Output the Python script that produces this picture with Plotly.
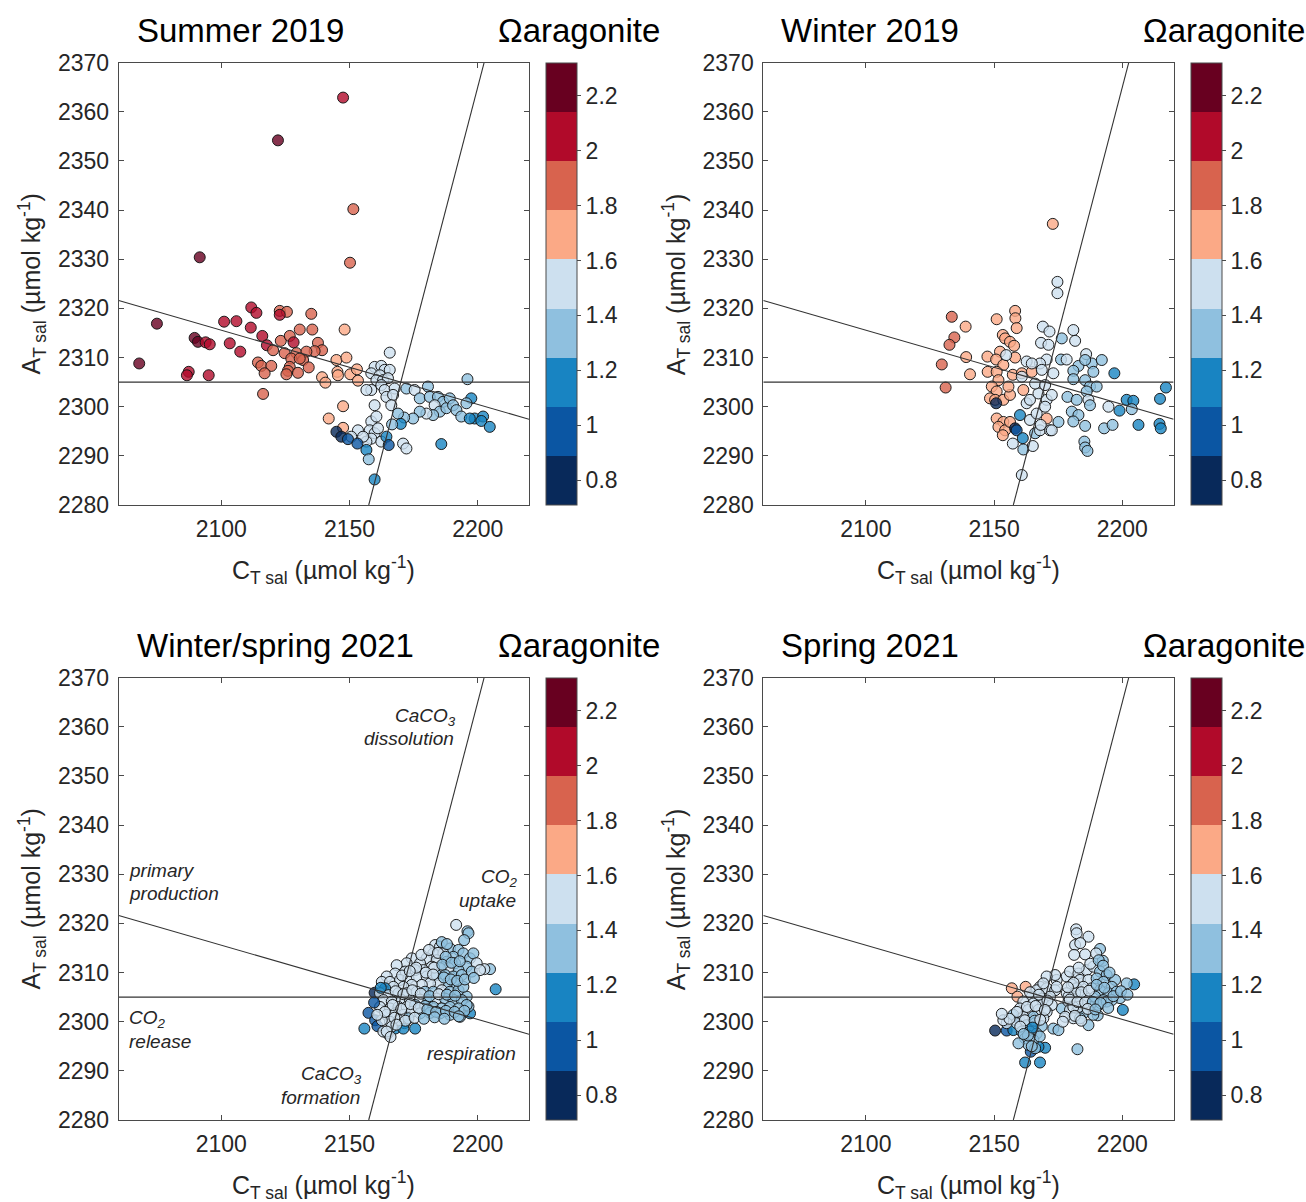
import plotly.graph_objects as go

# ---------------------------------------------------------------------------
# Salinity-normalised carbonate data (CT_sal, AT_sal in umol/kg, Omega aragonite)
# ---------------------------------------------------------------------------
ct_summer2019 = [
    2147.5, 2122.1, 2151.5, 2150.2, 2091.6,
    2111.7, 2113.7, 2122.8, 2125.6, 2122.8, 2135.1, 2074.9, 2101.1, 2105.9, 2111.5,
    2130.6, 2135.5, 2148.1, 2089.6, 2090.9, 2093.9, 2095.5, 2103.3, 2116.0, 2117.8,
    2123.2, 2126.7, 2128.2, 2137.7, 2139.3, 2136.4, 2107.4, 2120.2, 2124.7, 2129.3,
    2133.2, 2131.9, 2127.3, 2130.6, 2068.0, 2114.3, 2115.6, 2119.5, 2126.7, 2126.0,
    2129.9, 2125.4, 2134.1, 2116.9, 2144.9, 2148.8, 2145.3, 2145.5, 2139.3, 2140.6,
    2150.3, 2152.9, 2153.3, 2087.3, 2086.6, 2095.1, 2116.3, 2147.5, 2141.9, 2147.5,
    2165.7, 2159.8, 2162.4, 2163.7, 2165.7, 2158.5, 2161.8, 2160.5, 2163.1, 2165.0,
    2162.4, 2163.7, 2158.5, 2167.6, 2164.4, 2167.0, 2159.8, 2166.3, 2156.6, 2172.2,
    2175.4, 2177.4, 2180.6, 2181.3, 2184.5, 2186.5, 2183.2, 2185.2, 2187.8, 2189.1,
    2190.4, 2191.7, 2193.6, 2182.6, 2180.0, 2177.4, 2174.8, 2171.3, 2168.9, 2196.0,
    2197.5, 2195.6, 2198.8, 2202.1, 2201.4, 2204.7, 2196.9, 2185.8, 2170.9, 2172.2,
    2158.5, 2160.5, 2157.9, 2159.8, 2161.1, 2158.5, 2156.6, 2153.3, 2150.7, 2155.3,
    2162.4, 2164.4, 2165.3, 2170.0, 2166.6, 2144.9, 2146.8, 2149.4, 2153.1, 2156.6,
    2157.5, 2159.8,
]
at_summer2019 = [
    2362.9, 2354.2, 2340.2, 2329.3, 2330.4,
    2320.2, 2319.1, 2319.5, 2319.3, 2318.7, 2318.9, 2316.9, 2317.3, 2317.4, 2316.1,
    2315.7, 2315.7, 2315.7, 2314.0, 2313.2, 2313.1, 2312.7, 2312.9, 2314.4, 2312.5,
    2313.4, 2314.4, 2313.1, 2313.0, 2311.5, 2311.3, 2311.2, 2311.5, 2310.9, 2310.9,
    2311.2, 2309.5, 2309.8, 2309.8, 2308.8, 2309.0, 2308.3, 2308.3, 2308.1, 2307.3,
    2306.9, 2306.6, 2308.0, 2306.8, 2309.5, 2310.0, 2307.1, 2306.4, 2306.0, 2304.9,
    2306.6, 2307.6, 2305.3, 2307.1, 2306.4, 2306.4, 2302.6, 2300.1, 2297.6, 2295.7,
    2311.0, 2308.1, 2308.3, 2307.5, 2307.5, 2306.8, 2306.4, 2305.4, 2305.4, 2305.8,
    2304.4, 2303.4, 2303.4, 2303.7, 2302.0, 2302.4, 2300.3, 2300.3, 2303.4, 2303.7,
    2303.4, 2301.7, 2304.1, 2302.0, 2302.0, 2301.0, 2300.3, 2299.0, 2299.7, 2301.7,
    2300.3, 2299.3, 2298.0, 2298.3, 2298.6, 2299.0, 2297.6, 2297.8, 2298.6, 2305.6,
    2301.7, 2300.7, 2297.6, 2298.0, 2297.1, 2295.9, 2297.6, 2292.4, 2292.5, 2291.5,
    2297.0, 2298.0, 2295.2, 2294.6, 2295.6, 2293.5, 2292.9, 2295.2, 2293.9, 2293.9,
    2292.9, 2293.9, 2292.2, 2296.5, 2296.4, 2294.9, 2293.9, 2293.4, 2292.5, 2291.2,
    2289.3, 2285.2,
]
omega_summer2019 = [
    2.03, 2.21, 1.86, 1.86, 2.21,
    2.05, 2.03, 1.88, 1.85, 1.98, 1.84, 2.19, 2.06, 2.02, 2.04,
    1.87, 1.83, 1.70, 2.18, 2.15, 2.07, 2.05, 2.13, 2.01, 1.97,
    1.89, 1.86, 1.99, 1.82, 1.84, 1.87, 2.04, 1.90, 1.88, 1.85,
    1.83, 1.86, 1.87, 1.84, 2.32, 1.91, 1.89, 1.86, 1.85, 1.88,
    1.83, 1.86, 1.81, 1.87, 1.72, 1.69, 1.71, 1.74, 1.73, 1.70,
    1.68, 1.75, 1.72, 2.08, 2.03, 2.05, 1.87, 1.71, 1.69, 1.66,
    1.48, 1.52, 1.50, 1.46, 1.53, 1.49, 1.51, 1.47, 1.55, 1.50,
    1.44, 1.52, 1.49, 1.46, 1.51, 1.48, 1.53, 1.45, 1.56, 1.38,
    1.45, 1.36, 1.33, 1.42, 1.35, 1.30, 1.44, 1.34, 1.31, 1.37,
    1.29, 1.33, 1.27, 1.39, 1.43, 1.36, 1.32, 1.35, 1.38, 1.31,
    1.16, 1.26, 1.14, 1.12, 1.18, 1.15, 1.20, 1.17, 1.46, 1.44,
    1.47, 1.50, 1.44, 1.52, 1.48, 1.49, 1.53, 1.46, 1.51, 1.45,
    1.47, 1.15, 0.95, 1.19, 1.40, 0.71, 0.83, 0.96, 0.99, 1.13,
    1.31, 1.16,
]

ct_winter2019 = [
    2172.9, 2174.7, 2174.7, 2133.5, 2138.9, 2134.5, 2132.6, 2129.6, 2131.1, 2139.1,
    2140.6, 2151.0, 2158.2, 2158.3, 2158.8, 2153.4, 2154.3, 2156.2, 2157.8, 2152.3,
    2147.4, 2150.8, 2153.6, 2147.5, 2151.0, 2151.7, 2149.1, 2151.0, 2148.4, 2150.4,
    2153.6, 2156.2, 2155.6, 2158.2, 2157.3, 2160.8, 2151.0, 2153.6, 2151.7, 2154.3,
    2153.4, 2156.2, 2170.5, 2164.7, 2161.4, 2150.8, 2158.2, 2158.8, 2160.1, 2161.2,
    2161.4, 2157.3, 2165.1, 2160.8, 2166.0, 2167.9, 2171.8, 2175.1, 2164.0, 2166.6,
    2162.7, 2164.0, 2170.5, 2169.9, 2167.3, 2166.0, 2169.9, 2172.5, 2173.1, 2170.5,
    2167.9, 2168.6, 2162.7, 2164.7, 2154.7, 2160.8, 2169.0, 2171.6, 2168.3, 2171.2,
    2176.4, 2180.9, 2181.6, 2176.1, 2178.3, 2182.9, 2180.9, 2180.9, 2185.9, 2188.1,
    2185.5, 2192.0, 2188.7, 2185.5, 2187.4, 2190.0, 2186.1, 2196.9, 2178.6, 2182.2,
    2186.8, 2187.4, 2194.6, 2198.9, 2201.7, 2204.3, 2203.7, 2214.7, 2217.0, 2206.3,
    2214.5, 2215.0, 2180.3, 2182.9, 2180.9, 2185.5, 2192.9, 2196.2, 2185.2, 2185.5,
    2186.4, 2172.5, 2168.2,
]
at_winter2019 = [
    2337.2, 2325.4, 2323.1, 2318.3, 2316.3, 2314.1, 2312.6, 2308.6, 2303.9, 2310.1,
    2306.6, 2317.8, 2319.5, 2318.0, 2316.0, 2314.6, 2313.9, 2313.2, 2312.4, 2311.2,
    2310.2, 2309.6, 2308.5, 2307.1, 2307.1, 2305.4, 2304.1, 2303.1, 2301.7, 2301.4,
    2301.4, 2302.4, 2304.1, 2310.0, 2306.5, 2306.8, 2297.6, 2296.9, 2295.9, 2295.2,
    2294.2, 2296.9, 2297.6, 2307.1, 2303.4, 2300.7, 2295.6, 2295.2, 2298.3, 2293.6,
    2291.3, 2292.5, 2292.0, 2286.1, 2294.6, 2295.2, 2295.2, 2296.9, 2297.3, 2298.6,
    2300.7, 2301.4, 2301.4, 2300.0, 2302.7, 2304.7, 2304.4, 2302.4, 2306.8, 2309.6,
    2308.8, 2307.5, 2309.2, 2308.8, 2310.5, 2306.1, 2316.3, 2315.3, 2313.0, 2312.6,
    2313.9, 2315.6, 2313.4, 2309.6, 2309.6, 2308.3, 2307.3, 2305.6, 2310.7, 2308.8,
    2309.5, 2309.5, 2307.1, 2305.4, 2304.1, 2304.1, 2303.1, 2306.8, 2302.0, 2301.4,
    2301.4, 2300.3, 2300.0, 2299.2, 2301.4, 2301.2, 2299.5, 2301.6, 2303.9, 2296.3,
    2296.5, 2295.6, 2299.0, 2298.3, 2297.0, 2296.1, 2295.6, 2296.3, 2292.9, 2291.7,
    2291.0, 2295.2, 2296.3,
]
omega_winter2019 = [
    1.68, 1.50, 1.47, 1.87, 1.70, 1.84, 1.85, 1.88, 1.86, 1.71,
    1.69, 1.72, 1.73, 1.70, 1.68, 1.74, 1.71, 1.69, 1.72, 1.70,
    1.67, 1.73, 1.69, 1.71, 1.66, 1.70, 1.74, 1.68, 1.72, 1.69,
    1.71, 1.67, 1.73, 1.70, 1.69, 1.72, 1.71, 1.68, 1.73, 1.70,
    1.69, 1.72, 1.71, 1.68, 1.70, 0.82, 0.81, 0.98, 1.16, 1.14,
    1.33, 1.49, 1.45, 1.48, 1.38, 1.44, 1.47, 1.34, 1.43, 1.50,
    1.46, 1.52, 1.48, 1.45, 1.51, 1.49, 1.47, 1.53, 1.50, 1.46,
    1.52, 1.48, 1.55, 1.50, 1.53, 1.51, 1.49, 1.52, 1.47, 1.50,
    1.40, 1.48, 1.51, 1.36, 1.44, 1.33, 1.39, 1.35, 1.46, 1.37,
    1.42, 1.32, 1.38, 1.41, 1.36, 1.34, 1.40, 1.15, 1.31, 1.37,
    1.44, 1.33, 1.49, 1.17, 1.14, 1.19, 1.38, 1.16, 1.13, 1.15,
    1.18, 1.12, 1.33, 1.36, 1.30, 1.39, 1.34, 1.37, 1.31, 1.35,
    1.40, 1.46, 1.43,
]

ct_winterspring2021 = [
    2191.6, 2196.0, 2196.4, 2194.7, 2207.0, 2204.8, 2202.6, 2159.8, 2157.4, 2155.8,
    2160.0, 2160.9, 2164.9, 2167.8, 2171.4, 2175.6, 2171.0, 2163.2, 2197.0, 2193.1,
    2196.4, 2195.7,
    2183.4, 2185.3, 2189.2, 2192.5, 2182.7, 2186.6, 2190.5, 2194.4, 2197.0, 2198.3,
    2180.1, 2184.0, 2187.9, 2191.2, 2174.3, 2172.3, 2168.4, 2177.5, 2195.7, 2199.6,
    2192.5, 2188.6, 2185.3, 2182.1, 2178.8, 2175.6, 2171.7, 2167.8, 2164.5, 2162.6,
    2165.8, 2169.7, 2173.0, 2176.2, 2180.1, 2184.0, 2187.3, 2190.5, 2193.8, 2197.7,
    2200.9, 2191.2, 2187.9, 2184.7, 2181.4, 2178.2, 2174.3, 2171.0, 2167.1, 2163.9,
    2161.9, 2165.2, 2169.1, 2172.3, 2176.2, 2179.5, 2182.7, 2186.0, 2189.2, 2192.5,
    2194.4, 2163.2, 2166.5, 2170.4, 2173.6, 2177.5, 2180.8, 2184.0, 2187.3, 2190.5,
    2193.8, 2195.7, 2161.9, 2165.8, 2169.1, 2172.3, 2175.6, 2179.5, 2182.7, 2186.0,
    2189.2, 2192.5, 2164.5, 2167.8, 2171.0, 2174.3, 2177.5, 2181.4, 2185.3, 2189.2,
    2165.8, 2162.6, 2169.1, 2173.0, 2166.5, 2164.5,
    2178.0, 2181.0, 2186.0, 2188.0, 2184.5, 2187.5, 2183.0, 2186.2, 2189.8, 2193.0,
    2176.0, 2179.8, 2182.6, 2186.8, 2189.5, 2192.0, 2195.0, 2198.5, 2170.5, 2173.5,
    2168.0, 2171.0, 2174.5, 2177.8, 2181.2, 2184.8, 2188.0, 2191.2, 2166.8, 2170.2,
    2173.8, 2177.0, 2180.4, 2183.8, 2187.6, 2191.0, 2194.8, 2163.8, 2167.5, 2171.8,
    2175.4, 2179.0, 2183.2, 2187.0, 2192.6, 2168.3, 2162.2, 2159.6, 2160.8, 2166.0,
]
at_winterspring2021 = [
    2319.7, 2318.4, 2318.0, 2316.6, 2306.6, 2310.7, 2310.7, 2305.9, 2301.8, 2298.6,
    2300.3, 2299.1, 2297.6, 2298.6, 2299.7, 2298.6, 2298.6, 2298.0, 2301.7, 2301.0,
    2303.1, 2305.1,
    2315.6, 2315.3, 2314.9, 2314.6, 2313.9, 2313.9, 2313.2, 2313.9, 2312.9, 2313.9,
    2312.9, 2312.5, 2312.2, 2311.9, 2312.9, 2311.9, 2311.5, 2311.9, 2311.2, 2311.9,
    2310.5, 2310.9, 2310.9, 2311.2, 2310.5, 2310.5, 2310.2, 2309.8, 2309.2, 2308.1,
    2308.1, 2308.5, 2308.8, 2309.2, 2309.2, 2309.5, 2309.5, 2309.2, 2309.5, 2310.2,
    2310.5, 2307.8, 2307.8, 2307.8, 2307.8, 2307.5, 2307.5, 2307.1, 2307.1, 2306.8,
    2305.8, 2305.4, 2305.8, 2305.8, 2306.1, 2306.1, 2306.1, 2306.4, 2306.1, 2306.4,
    2307.1, 2304.4, 2304.1, 2304.4, 2304.4, 2304.5, 2304.4, 2304.7, 2304.7, 2304.4,
    2304.4, 2303.4, 2303.0, 2302.7, 2303.0, 2303.0, 2303.4, 2303.2, 2303.0, 2302.7,
    2303.0, 2302.7, 2301.4, 2301.7, 2301.4, 2302.0, 2301.7, 2301.8, 2301.7, 2301.4,
    2300.0, 2300.3, 2300.3, 2300.7, 2299.0, 2298.0,
    2313.6, 2314.6, 2316.2, 2315.8, 2314.0, 2313.2, 2311.0, 2311.6, 2312.0, 2312.3,
    2311.0, 2310.0, 2309.6, 2309.0, 2308.6, 2308.3, 2308.6, 2308.9, 2309.4, 2310.3,
    2306.2, 2305.6, 2306.4, 2305.7, 2305.2, 2305.6, 2305.5, 2305.3, 2303.4, 2302.6,
    2303.6, 2302.8, 2302.5, 2302.0, 2302.2, 2302.0, 2302.2, 2302.0, 2300.8, 2300.2,
    2300.8, 2300.6, 2300.9, 2300.6, 2301.1, 2299.4, 2306.9, 2303.9, 2301.4, 2296.9,
]
omega_winterspring2021 = [
    1.50, 1.32, 1.36, 1.38, 1.15, 1.40, 1.47, 0.81, 0.99, 1.13,
    0.96, 1.02, 1.46, 1.14, 1.17, 1.15, 1.12, 1.44, 1.16, 1.33,
    1.30, 1.35,
    1.47, 1.50, 1.38, 1.34, 1.52, 1.45, 1.36, 1.31, 1.35, 1.42,
    1.49, 1.46, 1.40, 1.37, 1.53, 1.50, 1.55, 1.48, 1.33, 1.44,
    1.39, 1.43, 1.47, 1.51, 1.49, 1.52, 1.46, 1.54, 1.50, 1.48,
    1.53, 1.45, 1.51, 1.47, 1.44, 1.42, 1.36, 1.34, 1.30, 1.38,
    1.45, 1.35, 1.41, 1.46, 1.43, 1.50, 1.48, 1.52, 1.47, 1.16,
    1.51, 1.45, 1.49, 1.53, 1.46, 1.42, 1.39, 1.44, 1.37, 1.32,
    1.29, 1.48, 1.50, 1.46, 1.43, 1.49, 1.41, 1.45, 1.38, 1.33,
    1.36, 1.28, 1.47, 1.52, 1.44, 1.49, 1.42, 1.35, 1.40, 1.31,
    1.37, 1.34, 1.50, 1.46, 1.43, 1.48, 1.33, 1.30, 1.36, 1.32,
    1.49, 1.53, 1.45, 1.41, 1.47, 1.51,
    1.48, 1.45, 1.39, 1.34, 1.44, 1.37, 1.50, 1.41, 1.35, 1.31,
    1.52, 1.47, 1.44, 1.38, 1.33, 1.36, 1.30, 1.40, 1.53, 1.49,
    1.51, 1.46, 1.48, 1.44, 1.42, 1.45, 1.37, 1.34, 1.50, 1.47,
    1.45, 1.43, 1.39, 1.41, 1.35, 1.32, 1.29, 1.49, 1.46, 1.44,
    1.47, 1.40, 1.36, 1.33, 1.31, 1.50, 1.12, 0.98, 1.52, 1.48,
]

ct_spring2021 = [
    2156.9, 2162.3, 2159.1, 2150.4, 2154.9, 2159.8, 2164.3, 2162.1, 2167.9, 2169.9,
    2167.3, 2157.5, 2200.2, 2204.6, 2191.3, 2182.5, 2186.8, 2190.4, 2201.7, 2192.4,
    2199.1, 2173.1, 2175.1, 2176.4, 2182.0, 2182.2, 2186.8, 2181.6, 2181.2, 2185.5,
    2189.8, 2178.3, 2174.4, 2173.8, 2170.5, 2167.9,
    2179.6, 2182.9, 2186.1, 2188.7, 2191.3, 2193.9, 2197.2, 2183.5, 2186.8, 2190.0,
    2192.6, 2195.9, 2180.3, 2182.2, 2184.8, 2188.1, 2191.3, 2194.6, 2197.8, 2178.3,
    2180.9, 2183.5, 2186.1, 2189.4, 2192.6, 2195.9, 2179.0, 2181.6, 2184.2, 2187.4,
    2190.7, 2193.9, 2179.6, 2182.2, 2184.8, 2188.7, 2180.9, 2183.5, 2177.7, 2180.3,
    2182.2, 2181.6, 2182.9, 2179.0, 2180.9,
    2166.6, 2170.5, 2173.8, 2164.7, 2168.6, 2171.8, 2161.4, 2165.3, 2169.2, 2172.5,
    2160.1, 2163.4, 2167.3, 2170.5, 2157.5, 2161.4, 2165.3, 2169.2, 2158.8, 2162.7,
    2166.0, 2168.6, 2160.8, 2164.0, 2166.6, 2162.1, 2165.3, 2163.4, 2166.0, 2159.5,
    2154.9, 2153.6, 2169.2, 2174.4,
    2181.0, 2184.0, 2187.0, 2190.0, 2193.0, 2196.5, 2179.5, 2182.5, 2185.5, 2188.5,
    2191.5, 2194.5, 2181.5, 2184.0, 2186.5, 2189.5, 2178.8, 2183.0, 2187.5, 2190.8,
    2192.5, 2195.0, 2199.5, 2202.0, 2183.6, 2176.8,
    2164.0, 2167.5, 2170.8, 2162.8, 2166.2, 2169.8, 2158.9, 2162.0, 2165.8, 2168.0,
    2160.2, 2163.2, 2165.0, 2167.8, 2161.5, 2164.7, 2156.0, 2153.0,
]
at_spring2021 = [
    2306.8, 2307.1, 2305.1, 2298.2, 2298.2, 2300.5, 2293.9, 2291.7, 2291.7, 2294.7,
    2294.9, 2298.3, 2302.4, 2307.6, 2314.8, 2294.4, 2299.3, 2301.3, 2307.8, 2312.4,
    2304.8, 2298.6, 2298.3, 2302.7, 2318.8, 2318.0, 2317.3, 2315.6, 2313.6, 2313.7,
    2313.9, 2309.2, 2308.5, 2309.5, 2309.2, 2307.1,
    2310.2, 2309.8, 2310.5, 2311.2, 2310.2, 2309.5, 2308.5, 2308.5, 2308.5, 2308.8,
    2308.1, 2307.1, 2307.5, 2306.8, 2307.1, 2306.8, 2306.4, 2305.8, 2306.1, 2305.8,
    2305.1, 2305.4, 2304.7, 2305.1, 2304.4, 2304.4, 2304.1, 2303.7, 2303.4, 2303.0,
    2303.4, 2304.1, 2302.4, 2302.0, 2301.7, 2301.4, 2300.7, 2300.7, 2301.0, 2304.8,
    2304.4, 2305.8, 2303.0, 2305.1, 2303.0,
    2306.4, 2306.8, 2306.4, 2305.1, 2304.7, 2305.1, 2304.1, 2303.7, 2303.7, 2303.4,
    2302.7, 2302.4, 2302.4, 2302.0, 2301.4, 2301.0, 2301.0, 2300.7, 2299.7, 2299.3,
    2299.7, 2299.1, 2298.0, 2298.0, 2297.6, 2296.6, 2296.3, 2295.3, 2294.6, 2295.6,
    2299.7, 2300.3, 2307.8, 2307.1,
    2307.9, 2306.0, 2306.3, 2307.5, 2306.9, 2305.2, 2304.5, 2304.0, 2303.9, 2304.0,
    2303.8, 2302.8, 2301.2, 2300.2, 2302.6, 2302.5, 2307.0, 2311.0, 2311.8, 2312.5,
    2311.4, 2310.0, 2306.2, 2305.5, 2316.0, 2300.0,
    2306.0, 2305.5, 2304.3, 2303.0, 2303.2, 2302.4, 2302.0, 2300.3, 2300.2, 2300.4,
    2299.0, 2297.2, 2298.8, 2297.0, 2297.5, 2295.0, 2300.6, 2301.6,
]
omega_spring2021 = [
    1.69, 1.72, 1.67, 0.80, 0.97, 0.95, 0.99, 1.14, 1.16, 1.13,
    1.18, 1.20, 1.15, 1.12, 1.26, 1.33, 1.31, 1.36, 1.34, 1.30,
    1.32, 1.38, 1.35, 1.37, 1.49, 1.52, 1.47, 1.50, 1.46, 1.53,
    1.44, 1.51, 1.48, 1.52, 1.49, 1.46,
    1.48, 1.51, 1.45, 1.43, 1.38, 1.35, 1.32, 1.50, 1.46, 1.41,
    1.37, 1.34, 1.52, 1.49, 1.47, 1.44, 1.40, 1.36, 1.33, 1.53,
    1.48, 1.46, 1.50, 1.42, 1.39, 1.35, 1.51, 1.47, 1.45, 1.43,
    1.38, 1.36, 1.49, 1.44, 1.41, 1.37, 1.46, 1.42, 1.48, 1.50,
    1.47, 1.52, 1.45, 1.49, 1.46,
    1.48, 1.51, 1.53, 1.47, 1.50, 1.52, 1.46, 1.49, 1.44, 1.51,
    1.48, 1.45, 1.50, 1.47, 1.42, 1.46, 1.39, 1.48, 1.44, 1.37,
    1.43, 1.40, 1.35, 1.41, 1.38, 1.33, 1.36, 1.31, 1.39, 1.34,
    1.47, 1.45, 1.52, 1.50,
    1.49, 1.46, 1.44, 1.40, 1.37, 1.33, 1.51, 1.47, 1.45, 1.42,
    1.39, 1.35, 1.48, 1.44, 1.46, 1.41, 1.50, 1.47, 1.43, 1.38,
    1.36, 1.34, 1.32, 1.30, 1.52, 1.45,
    1.50, 1.48, 1.46, 1.51, 1.47, 1.44, 1.49, 1.45, 1.42, 1.46,
    1.43, 1.38, 1.15, 1.40, 1.36, 1.33, 1.48, 1.44,
]

panel_titles = ["Summer 2019", "Winter 2019", "Winter/spring 2021", "Spring 2021"]

# Reference point and process vectors (dTA/dDIC)
ref_ct, ref_at = 2170.0, 2305.0
slope_primary_production = -16.0 / 106.0
slope_caco3 = 2.0

# Axis limits and ticks
ct_range = [2060, 2220]
at_range = [2280, 2370]
ct_ticks = [2100, 2150, 2200]
at_ticks = [2280, 2290, 2300, 2310, 2320, 2330, 2340, 2350, 2360, 2370]

# Discrete Omega colour scale (9 classes, RdBu reversed)
omega_limits = [0.71, 2.32]
omega_colors = ["#08295a", "#0b56a3", "#1884c2", "#8fc0df", "#cde0ef",
                "#fba986", "#d8634e", "#b10a2a", "#680020"]
omega_ticks = [0.8, 1.0, 1.2, 1.4, 1.6, 1.8, 2.0, 2.2]
omega_ticklabels = ["0.8", "1", "1.2", "1.4", "1.6", "1.8", "2", "2.2"]
face_alpha = 0.8

# ---------------------------------------------------------------------------
W, H = 1306, 1202
FONT = "Liberation Sans, Arial, sans-serif"
INK = "#262626"
AXC = "#4a4a4a"


def fx(p):
    return p / W


def fy(p):
    return 1 - p / H


def rgba(hex_color, a):
    h = hex_color.lstrip("#")
    return "rgba(%d,%d,%d,%.2f)" % (int(h[0:2], 16), int(h[2:4], 16), int(h[4:6], 16), a)


def stepped(colors):
    n = len(colors)
    scale = []
    for i, c in enumerate(colors):
        scale.append([i / n, c])
        scale.append([(i + 1) / n, c])
    return scale


bar_scale = stepped(omega_colors)
face_scale = stepped([rgba(c, face_alpha) for c in omega_colors])

# plot-area pixel boxes
col_left = [118.7, 763.3]
col_right = [529.0, 1173.6]
row_top = [62.7, 677.7]
row_bottom = [505.0, 1120.0]

datasets = [
    (ct_summer2019, at_summer2019, omega_summer2019),
    (ct_winter2019, at_winter2019, omega_winter2019),
    (ct_winterspring2021, at_winterspring2021, omega_winterspring2021),
    (ct_spring2021, at_spring2021, omega_spring2021),
]

fig = go.Figure()
annotations = []


def paper_text(text, px, py, size, xanchor="center", color=INK, angle=0):
    return dict(text=text, x=fx(px), y=fy(py), xref="paper", yref="paper",
                xanchor=xanchor, yanchor="middle", textangle=angle,
                showarrow=False, font=dict(family=FONT, size=size, color=color))


for k, (ct, at, om) in enumerate(datasets):
    r, c = divmod(k, 2)
    ax = "" if k == 0 else str(k + 1)
    L, R, T, B = col_left[c], col_right[c], row_top[r], row_bottom[r]

    # sample points: translucent faces, dark edges
    fig.add_trace(go.Scatter(
        x=ct, y=at, mode="markers", xaxis="x" + ax, yaxis="y" + ax,
        showlegend=False, hoverinfo="x+y",
        marker=dict(size=11, color=om, colorscale=face_scale,
                    cmin=omega_limits[0], cmax=omega_limits[1], showscale=False,
                    line=dict(color="rgba(20,20,20,0.95)", width=1)),
    ))
    # colour bar (opaque classes) for the same values
    fig.add_trace(go.Scatter(
        x=ct, y=at, mode="markers", xaxis="x" + ax, yaxis="y" + ax,
        showlegend=False, hoverinfo="skip",
        marker=dict(
            size=11, color=om, colorscale=bar_scale, opacity=0,
            cmin=omega_limits[0], cmax=omega_limits[1], showscale=True,
            colorbar=dict(
                x=fx(L + 427.3), xanchor="left", xpad=0, ypad=0,
                y=fy((T + B) / 2), yanchor="middle",
                len=(B - T) / H, lenmode="fraction",
                thickness=31, thicknessmode="pixels",
                outlinewidth=1, outlinecolor=AXC,
                tickvals=omega_ticks, ticktext=omega_ticklabels,
                ticks="outside", ticklen=4, tickcolor=AXC,
                tickfont=dict(family=FONT, size=23, color=INK),
            ),
        ),
    ))

    # process lines through the reference point
    x0, x1 = ct_range
    y0, y1 = at_range
    line_style = dict(color="#333333", width=1.1)
    fig.add_trace(go.Scatter(
        x=[x0, x1], y=[ref_at, ref_at], mode="lines",
        xaxis="x" + ax, yaxis="y" + ax, showlegend=False, hoverinfo="skip",
        line=line_style))
    fig.add_trace(go.Scatter(
        x=[x0, x1],
        y=[ref_at + slope_primary_production * (x0 - ref_ct),
           ref_at + slope_primary_production * (x1 - ref_ct)],
        mode="lines", xaxis="x" + ax, yaxis="y" + ax, showlegend=False,
        hoverinfo="skip", line=line_style))
    fig.add_trace(go.Scatter(
        x=[ref_ct + (y0 - ref_at) / slope_caco3, ref_ct + (y1 - ref_at) / slope_caco3],
        y=[y0, y1], mode="lines", xaxis="x" + ax, yaxis="y" + ax,
        showlegend=False, hoverinfo="skip", line=line_style))

    common = dict(showline=True, mirror="ticks", linecolor=AXC, linewidth=1,
                  ticks="inside", ticklen=5, tickcolor=AXC, showgrid=False,
                  zeroline=False, automargin=False,
                  tickfont=dict(family=FONT, size=23, color=INK))
    fig.update_layout(**{
        "xaxis" + ax: dict(domain=[fx(L), fx(R)], range=ct_range, tickvals=ct_ticks,
                           anchor="y" + ax, ticklabelstandoff=3, **common),
        "yaxis" + ax: dict(domain=[fy(B), fy(T)], range=at_range, tickvals=at_ticks,
                           anchor="x" + ax, ticklabelstandoff=4, **common),
    })

    # panel title and colour-bar label
    annotations.append(paper_text(panel_titles[k], L + 16, T - 32, 33,
                                  xanchor="left", color="#000000"))
    annotations.append(paper_text("Ωaragonite", L + 460.5, T - 32, 33,
                                  color="#000000"))
    # axis titles
    annotations.append(paper_text("C<sub>T sal</sub> (µmol kg<sup>-1</sup>)",
                                  (L + R) / 2, B + 65, 25))
    annotations.append(paper_text("A<sub>T sal</sub> (µmol kg<sup>-1</sup>)",
                                  L - 87, (T + B) / 2, 25, angle=-90))

# process labels in the Winter/spring 2021 panel
process_labels = [
    ("<i>CaCO<sub>3</sub></i>", 458, 717, "right"),
    ("<i>dissolution</i>", 456, 738, "right"),
    ("<i>primary</i>", 127, 870, "left"),
    ("<i>production</i>", 127, 893, "left"),
    ("<i>CO<sub>2</sub></i>", 520, 878, "right"),
    ("<i>uptake</i>", 518, 900, "right"),
    ("<i>CO<sub>2</sub></i>", 127, 1019, "left"),
    ("<i>release</i>", 127, 1041, "left"),
    ("<i>respiration</i>", 518, 1053, "right"),
    ("<i>CaCO<sub>3</sub></i>", 364, 1075, "right"),
    ("<i>formation</i>", 362, 1097, "right"),
]
for txt, px, py, anchor in process_labels:
    annotations.append(paper_text(txt, px, py, 19, xanchor=anchor))

fig.update_layout(
    width=W, height=H, margin=dict(l=0, r=0, t=0, b=0, autoexpand=False),
    paper_bgcolor="white", plot_bgcolor="white",
    font=dict(family=FONT, color=INK),
    annotations=annotations,
)

fig.write_html("out.html")
